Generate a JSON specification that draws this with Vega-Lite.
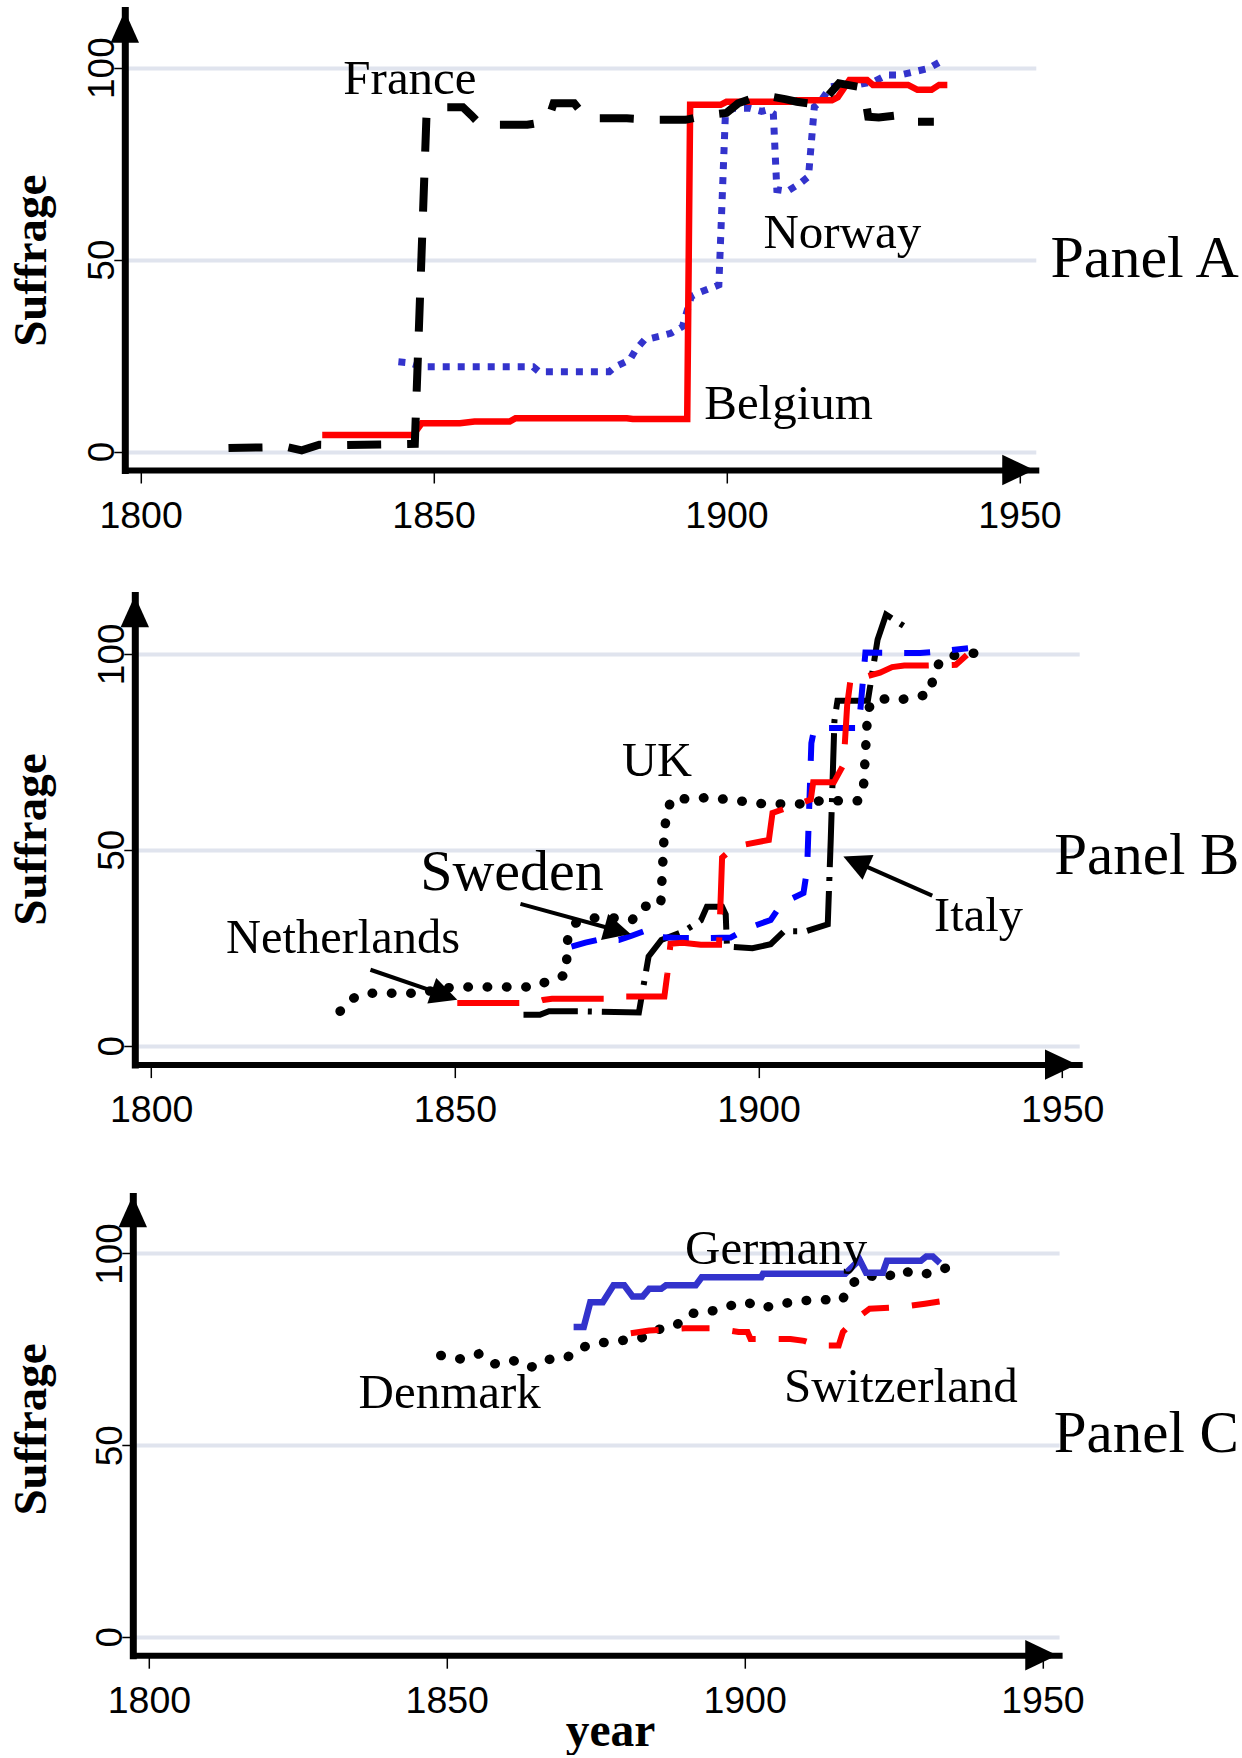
{
  "$schema": "https://vega.github.io/schema/vega-lite/v6.json",
  "background": "white",
  "padding": {"left": 6.8, "top": 10, "right": 0, "bottom": 0},
  "config": {
    "view": {"stroke": null},
    "axisX": {"labelFont": "Liberation Sans", "labelFontSize": 37.5, "labelColor": "black", "labelPadding": 14, "labelDx": 8, "labelFlush": false, "labelOverlap": false, "labelBaseline": "top", "tickSize": 13, "tickWidth": 1.5, "tickColor": "black", "domainColor": "black", "domainWidth": 6, "domainCap": "square", "grid": false, "titleFont": "Liberation Serif", "titleFontWeight": "bold", "titleFontSize": 47.5, "titleColor": "black"},
    "axisY": {"labelFont": "Liberation Sans", "labelFontSize": 37, "labelColor": "black", "labelAngle": 270, "labelAlign": "center", "labelBaseline": "alphabetic", "labelPadding": 0, "labelDx": 2, "labelFlush": false, "labelOverlap": false, "tickSize": 11, "tickWidth": 1.5, "tickColor": "black", "domainColor": "black", "domainWidth": 7, "domainCap": "square", "grid": true, "gridColor": "#e0e4ee", "gridWidth": 4, "title": null}
  },
  "datasets": {
    "spacer": [{"note": "spacer"}],
    "seriesA": [
      {"country": "France", "year": 1815, "value": 0.9}, {"country": "France", "year": 1825, "value": 1.2}, {"country": "France", "year": 1827.5, "value": 0.3}, {"country": "France", "year": 1830.5, "value": 1.8}, {"country": "France", "year": 1835, "value": 1.7}, {"country": "France", "year": 1846.8, "value": 2}, {"country": "France", "year": 1848.8, "value": 87.7}, {"country": "France", "year": 1849.5, "value": 88}, {"country": "France", "year": 1851, "value": 89.7}, {"country": "France", "year": 1855, "value": 89.7}, {"country": "France", "year": 1856.5, "value": 87.5}, {"country": "France", "year": 1858, "value": 85.1}, {"country": "France", "year": 1866, "value": 85.1}, {"country": "France", "year": 1869.5, "value": 86}, {"country": "France", "year": 1870.5, "value": 90.7}, {"country": "France", "year": 1874, "value": 90.7}, {"country": "France", "year": 1876, "value": 87}, {"country": "France", "year": 1878, "value": 86.8}, {"country": "France", "year": 1883, "value": 86.8}, {"country": "France", "year": 1888, "value": 86.4}, {"country": "France", "year": 1893, "value": 86.4}, {"country": "France", "year": 1897, "value": 87.7}, {"country": "France", "year": 1900, "value": 88.2}, {"country": "France", "year": 1902, "value": 90.7}, {"country": "France", "year": 1906, "value": 92.9}, {"country": "France", "year": 1910, "value": 91.8}, {"country": "France", "year": 1912, "value": 91.1}, {"country": "France", "year": 1916, "value": 90.3}, {"country": "France", "year": 1919.2, "value": 95.9}, {"country": "France", "year": 1922.5, "value": 95}, {"country": "France", "year": 1923.5, "value": 93.8}, {"country": "France", "year": 1924.2, "value": 87.2}, {"country": "France", "year": 1926, "value": 87}, {"country": "France", "year": 1930, "value": 87.7}, {"country": "France", "year": 1932, "value": 85.9}, {"country": "France", "year": 1935.4, "value": 85.9},
      {"country": "Norway", "year": 1844, "value": 23.4}, {"country": "Norway", "year": 1846, "value": 23.1}, {"country": "Norway", "year": 1848, "value": 22.1}, {"country": "Norway", "year": 1867, "value": 22.1}, {"country": "Norway", "year": 1868, "value": 20.8}, {"country": "Norway", "year": 1880, "value": 20.8}, {"country": "Norway", "year": 1881, "value": 22.1}, {"country": "Norway", "year": 1883.5, "value": 23.9}, {"country": "Norway", "year": 1884.5, "value": 26.5}, {"country": "Norway", "year": 1886, "value": 29.1}, {"country": "Norway", "year": 1888.5, "value": 30}, {"country": "Norway", "year": 1890.5, "value": 30.8}, {"country": "Norway", "year": 1892.5, "value": 32.6}, {"country": "Norway", "year": 1894, "value": 40.4}, {"country": "Norway", "year": 1895, "value": 41.2}, {"country": "Norway", "year": 1898.7, "value": 43.4}, {"country": "Norway", "year": 1899.8, "value": 87.2}, {"country": "Norway", "year": 1901, "value": 89.4}, {"country": "Norway", "year": 1904, "value": 89.4}, {"country": "Norway", "year": 1906, "value": 88.6}, {"country": "Norway", "year": 1907, "value": 89}, {"country": "Norway", "year": 1908, "value": 88}, {"country": "Norway", "year": 1908.6, "value": 68.2}, {"country": "Norway", "year": 1910.4, "value": 67.8}, {"country": "Norway", "year": 1912.6, "value": 69.9}, {"country": "Norway", "year": 1914, "value": 71.6}, {"country": "Norway", "year": 1915, "value": 89.8}, {"country": "Norway", "year": 1916, "value": 91.1}, {"country": "Norway", "year": 1917.8, "value": 95}, {"country": "Norway", "year": 1920, "value": 95.5}, {"country": "Norway", "year": 1922.3, "value": 95.5}, {"country": "Norway", "year": 1925.2, "value": 96.4}, {"country": "Norway", "year": 1927.4, "value": 98.1}, {"country": "Norway", "year": 1929.7, "value": 98.1}, {"country": "Norway", "year": 1932.3, "value": 99}, {"country": "Norway", "year": 1934.5, "value": 99.8}, {"country": "Norway", "year": 1936.6, "value": 101.6},
      {"country": "Belgium", "year": 1831, "value": 4.3}, {"country": "Belgium", "year": 1846.5, "value": 4.3}, {"country": "Belgium", "year": 1848, "value": 7.4}, {"country": "Belgium", "year": 1854.5, "value": 7.4}, {"country": "Belgium", "year": 1857, "value": 7.8}, {"country": "Belgium", "year": 1863, "value": 7.8}, {"country": "Belgium", "year": 1864, "value": 8.7}, {"country": "Belgium", "year": 1883, "value": 8.7}, {"country": "Belgium", "year": 1884, "value": 8.5}, {"country": "Belgium", "year": 1893.3, "value": 8.5}, {"country": "Belgium", "year": 1893.8, "value": 90.3}, {"country": "Belgium", "year": 1899, "value": 90.3}, {"country": "Belgium", "year": 1900, "value": 91.1}, {"country": "Belgium", "year": 1911, "value": 91.1}, {"country": "Belgium", "year": 1912, "value": 91.5}, {"country": "Belgium", "year": 1918, "value": 91.5}, {"country": "Belgium", "year": 1919, "value": 92.3}, {"country": "Belgium", "year": 1921, "value": 96.8}, {"country": "Belgium", "year": 1924, "value": 96.8}, {"country": "Belgium", "year": 1925, "value": 95.5}, {"country": "Belgium", "year": 1931, "value": 95.5}, {"country": "Belgium", "year": 1932.6, "value": 94.2}, {"country": "Belgium", "year": 1935, "value": 94.2}, {"country": "Belgium", "year": 1936.3, "value": 95.5}, {"country": "Belgium", "year": 1937.7, "value": 95.5}
    ],
    "seriesB": [
      {"country": "UK", "year": 1831.1, "value": 8.8}, {"country": "UK", "year": 1832.9, "value": 11.9}, {"country": "UK", "year": 1835.3, "value": 13.4}, {"country": "UK", "year": 1844.7, "value": 13.4}, {"country": "UK", "year": 1847, "value": 14.5}, {"country": "UK", "year": 1850.4, "value": 15}, {"country": "UK", "year": 1863.1, "value": 15}, {"country": "UK", "year": 1865.7, "value": 16.8}, {"country": "UK", "year": 1868.3, "value": 18.1}, {"country": "UK", "year": 1868.6, "value": 27.9}, {"country": "UK", "year": 1869.9, "value": 31.3}, {"country": "UK", "year": 1872.9, "value": 32.6}, {"country": "UK", "year": 1876.2, "value": 32.6}, {"country": "UK", "year": 1879.2, "value": 32.1}, {"country": "UK", "year": 1880.9, "value": 35.5}, {"country": "UK", "year": 1883.9, "value": 36}, {"country": "UK", "year": 1884.5, "value": 55}, {"country": "UK", "year": 1885, "value": 60.2}, {"country": "UK", "year": 1885.8, "value": 63.2}, {"country": "UK", "year": 1888.8, "value": 62.9}, {"country": "UK", "year": 1891.9, "value": 63.4}, {"country": "UK", "year": 1894.9, "value": 62.8}, {"country": "UK", "year": 1897.9, "value": 62.3}, {"country": "UK", "year": 1900.9, "value": 61.7}, {"country": "UK", "year": 1906.9, "value": 61.7}, {"country": "UK", "year": 1910.2, "value": 62.5}, {"country": "UK", "year": 1916.5, "value": 62.5}, {"country": "UK", "year": 1917.3, "value": 66.3}, {"country": "UK", "year": 1918, "value": 85.9}, {"country": "UK", "year": 1919.5, "value": 88.7}, {"country": "UK", "year": 1922.6, "value": 88.1}, {"country": "UK", "year": 1925.6, "value": 88.9}, {"country": "UK", "year": 1928.2, "value": 89.7}, {"country": "UK", "year": 1928.8, "value": 94.2}, {"country": "UK", "year": 1929.9, "value": 98.3}, {"country": "UK", "year": 1932.5, "value": 99.7}, {"country": "UK", "year": 1935.9, "value": 100.2},
      {"country": "Italy", "year": 1861.3, "value": 7.9}, {"country": "Italy", "year": 1864, "value": 7.9}, {"country": "Italy", "year": 1865.5, "value": 8.8}, {"country": "Italy", "year": 1871, "value": 8.8}, {"country": "Italy", "year": 1880.3, "value": 8.5}, {"country": "Italy", "year": 1881.9, "value": 22.8}, {"country": "Italy", "year": 1884, "value": 27}, {"country": "Italy", "year": 1887.7, "value": 29.2}, {"country": "Italy", "year": 1889, "value": 30.5}, {"country": "Italy", "year": 1890.5, "value": 32}, {"country": "Italy", "year": 1891.5, "value": 35.5}, {"country": "Italy", "year": 1894, "value": 35.5}, {"country": "Italy", "year": 1894.6, "value": 33.5}, {"country": "Italy", "year": 1894.8, "value": 25.3}, {"country": "Italy", "year": 1899, "value": 24.9}, {"country": "Italy", "year": 1902, "value": 25.9}, {"country": "Italy", "year": 1904.2, "value": 29.2}, {"country": "Italy", "year": 1907.8, "value": 29.2}, {"country": "Italy", "year": 1911.4, "value": 31}, {"country": "Italy", "year": 1911.9, "value": 53}, {"country": "Italy", "year": 1912.5, "value": 83}, {"country": "Italy", "year": 1913, "value": 88}, {"country": "Italy", "year": 1918, "value": 88}, {"country": "Italy", "year": 1919.6, "value": 103.6}, {"country": "Italy", "year": 1921, "value": 110}, {"country": "Italy", "year": 1924, "value": 107},
      {"country": "Sweden", "year": 1869.2, "value": 25.3}, {"country": "Sweden", "year": 1871.5, "value": 26.3}, {"country": "Sweden", "year": 1873.5, "value": 27}, {"country": "Sweden", "year": 1877, "value": 27}, {"country": "Sweden", "year": 1879, "value": 28}, {"country": "Sweden", "year": 1881.1, "value": 29.2}, {"country": "Sweden", "year": 1882, "value": 27.8}, {"country": "Sweden", "year": 1887, "value": 27.5}, {"country": "Sweden", "year": 1891, "value": 27.5}, {"country": "Sweden", "year": 1895.4, "value": 27.6}, {"country": "Sweden", "year": 1898.2, "value": 30}, {"country": "Sweden", "year": 1902, "value": 32.1}, {"country": "Sweden", "year": 1903.9, "value": 36.4}, {"country": "Sweden", "year": 1907.4, "value": 39}, {"country": "Sweden", "year": 1908, "value": 45}, {"country": "Sweden", "year": 1908.7, "value": 77.2}, {"country": "Sweden", "year": 1909.2, "value": 81.1}, {"country": "Sweden", "year": 1916.5, "value": 81.1}, {"country": "Sweden", "year": 1917.6, "value": 100.3}, {"country": "Sweden", "year": 1926.6, "value": 100.2}, {"country": "Sweden", "year": 1929.8, "value": 100.6}, {"country": "Sweden", "year": 1934.5, "value": 101.4},
      {"country": "Netherlands", "year": 1850.4, "value": 10.9}, {"country": "Netherlands", "year": 1863, "value": 10.9}, {"country": "Netherlands", "year": 1864.5, "value": 11.7}, {"country": "Netherlands", "year": 1866, "value": 12}, {"country": "Netherlands", "year": 1877, "value": 12}, {"country": "Netherlands", "year": 1878, "value": 12.6}, {"country": "Netherlands", "year": 1884.5, "value": 12.6}, {"country": "Netherlands", "year": 1885, "value": 18.5}, {"country": "Netherlands", "year": 1885.5, "value": 26}, {"country": "Netherlands", "year": 1887.5, "value": 26.3}, {"country": "Netherlands", "year": 1890.5, "value": 25.8}, {"country": "Netherlands", "year": 1893.5, "value": 25.8}, {"country": "Netherlands", "year": 1894, "value": 48}, {"country": "Netherlands", "year": 1896, "value": 50.8}, {"country": "Netherlands", "year": 1901.7, "value": 52.5}, {"country": "Netherlands", "year": 1902.3, "value": 59.4}, {"country": "Netherlands", "year": 1905.3, "value": 61}, {"country": "Netherlands", "year": 1908.6, "value": 62.8}, {"country": "Netherlands", "year": 1909, "value": 67.2}, {"country": "Netherlands", "year": 1912.4, "value": 67.2}, {"country": "Netherlands", "year": 1914, "value": 71.7}, {"country": "Netherlands", "year": 1914.6, "value": 87}, {"country": "Netherlands", "year": 1915.2, "value": 94}, {"country": "Netherlands", "year": 1918, "value": 94.3}, {"country": "Netherlands", "year": 1920, "value": 95.2}, {"country": "Netherlands", "year": 1922, "value": 96.6}, {"country": "Netherlands", "year": 1924, "value": 97}, {"country": "Netherlands", "year": 1928, "value": 97}, {"country": "Netherlands", "year": 1932.5, "value": 97.2}, {"country": "Netherlands", "year": 1934.3, "value": 99.7}
    ],
    "seriesC": [
      {"country": "Germany", "year": 1871.3, "value": 80.8}, {"country": "Germany", "year": 1873, "value": 80.8}, {"country": "Germany", "year": 1874.1, "value": 87.3}, {"country": "Germany", "year": 1876.2, "value": 87.3}, {"country": "Germany", "year": 1878, "value": 91.7}, {"country": "Germany", "year": 1879.8, "value": 91.7}, {"country": "Germany", "year": 1881.2, "value": 88.8}, {"country": "Germany", "year": 1882.9, "value": 88.8}, {"country": "Germany", "year": 1884, "value": 90.8}, {"country": "Germany", "year": 1886, "value": 90.8}, {"country": "Germany", "year": 1886.8, "value": 91.7}, {"country": "Germany", "year": 1891.8, "value": 91.7}, {"country": "Germany", "year": 1892.8, "value": 93.8}, {"country": "Germany", "year": 1902.8, "value": 93.8}, {"country": "Germany", "year": 1903.1, "value": 94.7}, {"country": "Germany", "year": 1916.9, "value": 94.7}, {"country": "Germany", "year": 1919.3, "value": 98.4}, {"country": "Germany", "year": 1920.4, "value": 95}, {"country": "Germany", "year": 1923.2, "value": 95}, {"country": "Germany", "year": 1923.9, "value": 98.1}, {"country": "Germany", "year": 1929.6, "value": 98.1}, {"country": "Germany", "year": 1930.5, "value": 99.2}, {"country": "Germany", "year": 1931.6, "value": 99.2}, {"country": "Germany", "year": 1932.8, "value": 97.5},
      {"country": "Denmark", "year": 1849.0, "value": 73.4}, {"country": "Denmark", "year": 1852.2, "value": 72.5}, {"country": "Denmark", "year": 1855.4, "value": 73.8}, {"country": "Denmark", "year": 1858.0, "value": 71.2}, {"country": "Denmark", "year": 1861.1, "value": 72.1}, {"country": "Denmark", "year": 1864.1, "value": 70.3}, {"country": "Denmark", "year": 1866.8, "value": 72.3}, {"country": "Denmark", "year": 1870.2, "value": 72.9}, {"country": "Denmark", "year": 1872.9, "value": 75.6}, {"country": "Denmark", "year": 1876.0, "value": 76.7}, {"country": "Denmark", "year": 1879.4, "value": 77.3}, {"country": "Denmark", "year": 1882.7, "value": 78}, {"country": "Denmark", "year": 1885.6, "value": 80.2}, {"country": "Denmark", "year": 1888.6, "value": 81.4}, {"country": "Denmark", "year": 1890.9, "value": 84.3}, {"country": "Denmark", "year": 1894.3, "value": 84.9}, {"country": "Denmark", "year": 1897.4, "value": 86.3}, {"country": "Denmark", "year": 1900.3, "value": 87.3}, {"country": "Denmark", "year": 1903.1, "value": 85.8}, {"country": "Denmark", "year": 1906.3, "value": 86.9}, {"country": "Denmark", "year": 1909.6, "value": 87.7}, {"country": "Denmark", "year": 1913.0, "value": 87.9}, {"country": "Denmark", "year": 1916.4, "value": 87.9}, {"country": "Denmark", "year": 1917.9, "value": 92.1}, {"country": "Denmark", "year": 1920.4, "value": 94.3}, {"country": "Denmark", "year": 1923.7, "value": 93.6}, {"country": "Denmark", "year": 1926.0, "value": 95.7}, {"country": "Denmark", "year": 1929.4, "value": 94.4}, {"country": "Denmark", "year": 1932.4, "value": 95.3}, {"country": "Denmark", "year": 1935.4, "value": 97.3},
      {"country": "Switzerland", "year": 1880.9, "value": 79.2}, {"country": "Switzerland", "year": 1884, "value": 79.9}, {"country": "Switzerland", "year": 1890, "value": 80.5}, {"country": "Switzerland", "year": 1895, "value": 80.5}, {"country": "Switzerland", "year": 1899, "value": 79.5}, {"country": "Switzerland", "year": 1900.5, "value": 79.5}, {"country": "Switzerland", "year": 1901, "value": 77.7}, {"country": "Switzerland", "year": 1907.7, "value": 77.7}, {"country": "Switzerland", "year": 1910, "value": 77.2}, {"country": "Switzerland", "year": 1912.3, "value": 76}, {"country": "Switzerland", "year": 1915.8, "value": 76}, {"country": "Switzerland", "year": 1916.5, "value": 79.5}, {"country": "Switzerland", "year": 1918.3, "value": 82.5}, {"country": "Switzerland", "year": 1921, "value": 85.6}, {"country": "Switzerland", "year": 1926, "value": 86}, {"country": "Switzerland", "year": 1930.3, "value": 86.9}, {"country": "Switzerland", "year": 1934.5, "value": 87.9}
    ],
    "labelsA": [
      {"label": "France", "year": 1834.6, "value": 93.2}, {"label": "Norway", "year": 1906.3, "value": 53.0}, {"label": "Belgium", "year": 1896.2, "value": 8.5}, {"label": "Panel A", "year": 1955.3, "value": 45.5}
    ],
    "labelsB": [
      {"label": "UK", "year": 1877.5, "value": 68.7}, {"label": "Sweden", "year": 1844.3, "value": 39.8}, {"label": "Netherlands", "year": 1812.3, "value": 23.6}, {"label": "Italy", "year": 1928.9, "value": 29.2}, {"label": "Panel B", "year": 1948.7, "value": 43.7}
    ],
    "labelsC": [
      {"label": "Germany", "year": 1890.0, "value": 97.3}, {"label": "Denmark", "year": 1835.2, "value": 59.7}, {"label": "Switzerland", "year": 1906.6, "value": 61.2}, {"label": "Panel C", "year": 1951.9, "value": 48.3}
    ],
    "axisTitles": [
      {"panel": "A", "label": "Suffrage", "year": 1783.86, "value": 49.7},
      {"panel": "B", "label": "Suffrage", "year": 1782.76, "value": 52.6},
      {"panel": "C", "label": "Suffrage", "year": 1782.7, "value": 54.1}
    ],
    "arrowsB": [
      {"label": "Netherlands", "year": 1836.1, "value": 19.4, "year2": 1848.3, "value2": 12.9},
      {"label": "Sweden", "year": 1860.8, "value": 36.2, "year2": 1876.8, "value2": 29.4},
      {"label": "Italy", "year": 1928.6, "value": 38.3, "year2": 1916.0, "value2": 46.9}
    ],
    "axisHeadsA": [{"axis": "y", "year": 1797.3, "value": 110.6}, {"axis": "x", "year": 1949.8, "value": -4.8}],
    "axisHeadsB": [{"axis": "y", "year": 1797.3, "value": 110.8}, {"axis": "x", "year": 1949.8, "value": -4.8}],
    "axisHeadsC": [{"axis": "y", "year": 1797.3, "value": 111.0}, {"axis": "x", "year": 1949.8, "value": -4.8}]
  },
  "spacing": 60,
  "vconcat": [
    {
      "spacing": 0,
      "hconcat": [
        {"width": 1, "height": 1, "data": {"name": "spacer"}, "mark": {"type": "point", "size": 0, "opacity": 0}},
        {
          "width": 911,
          "height": 460,
          "encoding": {
            "x": {"field": "year", "type": "quantitative", "scale": {"domain": [1797.3, 1952.8], "nice": false, "zero": false}, "axis": {"values": [1800, 1850, 1900, 1950], "format": "d", "title": null}},
            "y": {"field": "value", "type": "quantitative", "scale": {"domain": [-4.8, 115], "nice": false, "zero": false}, "axis": {"values": [0, 50, 100], "title": null}}
          },
          "layer": [
            {"data": {"name": "seriesA"}, "transform": [{"filter": "datum.country === 'Norway'"}], "mark": {"type": "line", "color": "#3333cc", "strokeWidth": 7, "strokeDash": [7, 8], "strokeCap": "butt"}},
            {"data": {"name": "seriesA"}, "transform": [{"filter": "datum.country === 'Belgium'"}], "mark": {"type": "line", "color": "#ff0000", "strokeWidth": 6.5}},
            {"data": {"name": "seriesA"}, "transform": [{"filter": "datum.country === 'France'"}], "mark": {"type": "line", "color": "black", "strokeWidth": 8, "strokeDash": [34, 26], "strokeCap": "butt"}},
            {"data": {"name": "labelsA"}, "transform": [{"filter": "indexof(datum.label, 'Panel') !== 0"}], "mark": {"type": "text", "font": "Liberation Serif", "fontSize": 49, "align": "left", "baseline": "alphabetic", "color": "black"}, "encoding": {"text": {"field": "label"}}},
            {"data": {"name": "labelsA"}, "transform": [{"filter": "indexof(datum.label, 'Panel') === 0"}], "mark": {"type": "text", "font": "Liberation Serif", "fontSize": 60, "align": "left", "baseline": "alphabetic", "color": "black"}, "encoding": {"text": {"field": "label"}}},
            {"data": {"name": "axisTitles"}, "transform": [{"filter": "datum.panel === 'A'"}], "mark": {"type": "text", "font": "Liberation Serif", "fontWeight": "bold", "fontSize": 47, "angle": 270, "align": "center", "baseline": "alphabetic", "color": "black"}, "encoding": {"text": {"field": "label"}}},
            {"data": {"name": "axisHeadsA"}, "transform": [{"filter": "datum.axis === 'y'"}], "mark": {"type": "point", "shape": "M0,-1L0.9,1L-0.9,1Z", "size": 1000, "filled": true, "color": "black", "opacity": 1, "strokeWidth": 0}},
            {"data": {"name": "axisHeadsA"}, "transform": [{"filter": "datum.axis === 'x'"}], "mark": {"type": "point", "shape": "M1,0L-1,-0.95L-1,0.95Z", "size": 1024, "filled": true, "color": "black", "opacity": 1, "strokeWidth": 0}}
          ]
        }
      ]
    },
    {
      "spacing": 65,
      "vconcat": [
        {
          "spacing": 0,
          "hconcat": [
            {"width": 1, "height": 1, "data": {"name": "spacer"}, "mark": {"type": "point", "size": 0, "opacity": 0}},
            {
              "width": 944.4,
              "height": 469.6,
              "encoding": {
                "x": {"field": "year", "type": "quantitative", "scale": {"domain": [1797.3, 1952.8], "nice": false, "zero": false}, "axis": {"values": [1800, 1850, 1900, 1950], "format": "d", "title": null}},
                "y": {"field": "value", "type": "quantitative", "scale": {"domain": [-4.8, 115], "nice": false, "zero": false}, "axis": {"values": [0, 50, 100], "title": null}}
              },
              "layer": [
                {"data": {"name": "seriesB"}, "transform": [{"filter": "datum.country === 'UK'"}], "mark": {"type": "line", "color": "black", "strokeWidth": 9.5, "strokeDash": [0.5, 18.8], "strokeCap": "round"}},
                {"data": {"name": "seriesB"}, "transform": [{"filter": "datum.country === 'Italy'"}], "mark": {"type": "line", "color": "black", "strokeWidth": 6, "strokeDash": [55, 10, 4, 10], "strokeCap": "butt"}},
                {"data": {"name": "seriesB"}, "transform": [{"filter": "datum.country === 'Sweden'"}], "mark": {"type": "line", "color": "#0000ff", "strokeWidth": 6, "strokeDash": [26, 22], "strokeCap": "butt"}},
                {"data": {"name": "seriesB"}, "transform": [{"filter": "datum.country === 'Netherlands'"}], "mark": {"type": "line", "color": "#ff0000", "strokeWidth": 6, "strokeDash": [62, 23], "strokeCap": "butt"}},
                {"data": {"name": "arrowsB"}, "mark": {"type": "rule", "color": "black", "strokeWidth": 4}, "encoding": {"x2": {"field": "year2"}, "y2": {"field": "value2"}}},
                {"data": {"name": "arrowsB"}, "transform": [{"filter": "datum.label === 'Netherlands'"}], "mark": {"type": "point", "shape": "M1,0L-1,-1L-1,1Z", "size": 729, "angle": 19.1, "filled": true, "color": "black", "opacity": 1, "strokeWidth": 0}, "encoding": {"x": {"field": "year2", "type": "quantitative"}, "y": {"field": "value2", "type": "quantitative"}}},
                {"data": {"name": "arrowsB"}, "transform": [{"filter": "datum.label === 'Sweden'"}], "mark": {"type": "point", "shape": "M1,0L-1,-1L-1,1Z", "size": 729, "angle": 15.3, "filled": true, "color": "black", "opacity": 1, "strokeWidth": 0}, "encoding": {"x": {"field": "year2", "type": "quantitative"}, "y": {"field": "value2", "type": "quantitative"}}},
                {"data": {"name": "arrowsB"}, "transform": [{"filter": "datum.label === 'Italy'"}], "mark": {"type": "point", "shape": "M1,0L-1,-1L-1,1Z", "size": 729, "angle": 203.8, "filled": true, "color": "black", "opacity": 1, "strokeWidth": 0}, "encoding": {"x": {"field": "year2", "type": "quantitative"}, "y": {"field": "value2", "type": "quantitative"}}},
                {"data": {"name": "labelsB"}, "transform": [{"filter": "datum.label !== 'Sweden' && indexof(datum.label, 'Panel') !== 0"}], "mark": {"type": "text", "font": "Liberation Serif", "fontSize": 48.5, "align": "left", "baseline": "alphabetic", "color": "black"}, "encoding": {"text": {"field": "label"}}},
                {"data": {"name": "labelsB"}, "transform": [{"filter": "datum.label === 'Sweden'"}], "mark": {"type": "text", "font": "Liberation Serif", "fontSize": 58, "align": "left", "baseline": "alphabetic", "color": "black"}, "encoding": {"text": {"field": "label"}}},
                {"data": {"name": "labelsB"}, "transform": [{"filter": "indexof(datum.label, 'Panel') === 0"}], "mark": {"type": "text", "font": "Liberation Serif", "fontSize": 59, "align": "left", "baseline": "alphabetic", "color": "black"}, "encoding": {"text": {"field": "label"}}},
                {"data": {"name": "axisTitles"}, "transform": [{"filter": "datum.panel === 'B'"}], "mark": {"type": "text", "font": "Liberation Serif", "fontWeight": "bold", "fontSize": 47, "angle": 270, "align": "center", "baseline": "alphabetic", "color": "black"}, "encoding": {"text": {"field": "label"}}},
                {"data": {"name": "axisHeadsB"}, "transform": [{"filter": "datum.axis === 'y'"}], "mark": {"type": "point", "shape": "M0,-1L0.9,1L-0.9,1Z", "size": 1000, "filled": true, "color": "black", "opacity": 1, "strokeWidth": 0}},
                {"data": {"name": "axisHeadsB"}, "transform": [{"filter": "datum.axis === 'x'"}], "mark": {"type": "point", "shape": "M1,0L-1,-0.95L-1,0.95Z", "size": 1024, "filled": true, "color": "black", "opacity": 1, "strokeWidth": 0}}
              ]
            }
          ]
        },
        {
          "spacing": 0,
          "hconcat": [
            {"width": 1, "height": 1, "data": {"name": "spacer"}, "mark": {"type": "point", "size": 0, "opacity": 0}},
            {
              "width": 926.3,
              "height": 459.2,
              "encoding": {
                "x": {"field": "year", "type": "quantitative", "scale": {"domain": [1797.3, 1952.8], "nice": false, "zero": false}, "axis": {"values": [1800, 1850, 1900, 1950], "format": "d", "title": "year", "titleX": 477.2, "titleY": 90.3, "titleAlign": "center", "titleBaseline": "alphabetic"}},
                "y": {"field": "value", "type": "quantitative", "scale": {"domain": [-4.8, 115], "nice": false, "zero": false}, "axis": {"values": [0, 50, 100], "title": null}}
              },
              "layer": [
                {"data": {"name": "seriesC"}, "transform": [{"filter": "datum.country === 'Denmark'"}], "mark": {"type": "line", "color": "black", "strokeWidth": 9.5, "strokeDash": [0.5, 18.8], "strokeCap": "round"}},
                {"data": {"name": "seriesC"}, "transform": [{"filter": "datum.country === 'Switzerland'"}], "mark": {"type": "line", "color": "#ff0000", "strokeWidth": 6, "strokeDash": [28, 23], "strokeCap": "butt"}},
                {"data": {"name": "seriesC"}, "transform": [{"filter": "datum.country === 'Germany'"}], "mark": {"type": "line", "color": "#3333cc", "strokeWidth": 6.5}},
                {"data": {"name": "labelsC"}, "transform": [{"filter": "indexof(datum.label, 'Panel') !== 0"}], "mark": {"type": "text", "font": "Liberation Serif", "fontSize": 49, "align": "left", "baseline": "alphabetic", "color": "black"}, "encoding": {"text": {"field": "label"}}},
                {"data": {"name": "labelsC"}, "transform": [{"filter": "indexof(datum.label, 'Panel') === 0"}], "mark": {"type": "text", "font": "Liberation Serif", "fontSize": 59, "align": "left", "baseline": "alphabetic", "color": "black"}, "encoding": {"text": {"field": "label"}}},
                {"data": {"name": "axisTitles"}, "transform": [{"filter": "datum.panel === 'C'"}], "mark": {"type": "text", "font": "Liberation Serif", "fontWeight": "bold", "fontSize": 47, "angle": 270, "align": "center", "baseline": "alphabetic", "color": "black"}, "encoding": {"text": {"field": "label"}}},
                {"data": {"name": "axisHeadsC"}, "transform": [{"filter": "datum.axis === 'y'"}], "mark": {"type": "point", "shape": "M0,-1L0.9,1L-0.9,1Z", "size": 1000, "filled": true, "color": "black", "opacity": 1, "strokeWidth": 0}},
                {"data": {"name": "axisHeadsC"}, "transform": [{"filter": "datum.axis === 'x'"}], "mark": {"type": "point", "shape": "M1,0L-1,-0.95L-1,0.95Z", "size": 1024, "filled": true, "color": "black", "opacity": 1, "strokeWidth": 0}}
              ]
            }
          ]
        }
      ]
    }
  ]
}
